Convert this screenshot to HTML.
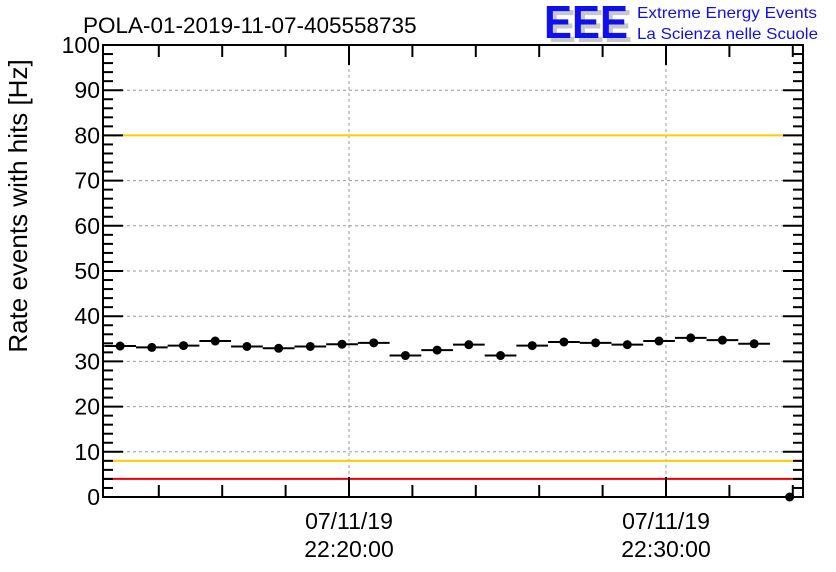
<!DOCTYPE html>
<html><head><meta charset="utf-8"><style>
body{margin:0;background:#fff;}
svg{display:block;font-family:"Liberation Sans",sans-serif;}
</style></head><body>
<svg id="chart" width="836" height="572" viewBox="0 0 836 572">
<rect width="836" height="572" fill="#fff"/>
<text x="83" y="33" font-size="22.5">POLA-01-2019-11-07-405558735</text>
<g>
<text x="548" y="42" font-size="46" font-weight="bold" fill="#c8c8c8" textLength="84" lengthAdjust="spacingAndGlyphs">EEE</text>
<text x="544" y="38" font-size="46" font-weight="bold" fill="#1010ee" textLength="84" lengthAdjust="spacingAndGlyphs">EEE</text>
<text x="637" y="18" font-size="16" fill="#1010ee" textLength="180" lengthAdjust="spacingAndGlyphs">Extreme Energy Events</text>
<text x="637" y="39" font-size="16" fill="#1010ee" textLength="181" lengthAdjust="spacingAndGlyphs">La Scienza nelle Scuole</text>
</g>
<g id="grid"></g>
<g id="lines"></g>
<g id="marks"></g>
<rect x="103" y="45" width="700" height="452" fill="none" stroke="#000" stroke-width="2"/>
<g id="axes"></g>
<text transform="translate(27,206) rotate(-90)" font-size="26" text-anchor="middle">Rate events with hits [Hz]</text>
</svg>
<script>
const values=[33.4,33.1,33.5,34.5,33.3,32.9,33.3,33.8,34.1,31.3,32.5,33.7,31.3,33.5,34.3,34.1,33.7,34.5,35.2,34.7,33.9];
const firstMinute=-7.22;
const lastPointMinute=13.9;
const lastPointValue=0;
const yTicks=[0,10,20,30,40,50,60,70,80,90,100];
const xMajorMinutes=[0,10];
const xMajorDates=["07/11/19","07/11/19"];
const xMajorTimes=["22:20:00","22:30:00"];
const thresholdsYellow=[80,8];
const thresholdsRed=[100,4];

const NS="http://www.w3.org/2000/svg";
const L=103,R=803,T=45,B=497;
const y=v=>B-(v/100)*(B-T);
const pxMin=31.7;
const x=m=>349+m*pxMin;
function mk(tag,attrs,parent){const e=document.createElementNS(NS,tag);for(const k in attrs)e.setAttribute(k,attrs[k]);document.getElementById(parent).appendChild(e);return e;}
yTicks.forEach(v=>{if(v>0&&v<100){const g=mk('line',{x1:L,x2:R,y1:y(v),y2:y(v),stroke:'#999','stroke-dasharray':'3,3','stroke-width':1},'grid');

}});
xMajorMinutes.forEach(m=>{const g=mk('line',{x1:x(m),x2:x(m),y1:T,y2:B,stroke:'#999','stroke-dasharray':'3,3','stroke-width':1},'grid');

});
thresholdsYellow.forEach(v=>{const l=mk('line',{x1:L,x2:R,y1:y(v),y2:y(v),stroke:'#ffcc00','stroke-width':2},'lines');

});
thresholdsRed.forEach(v=>{const l=mk('line',{x1:L,x2:R,y1:y(v),y2:y(v),stroke:'#ee0000','stroke-width':2},'lines');

});
values.forEach((v,i)=>{const m=firstMinute+i;
const bar=mk('line',{x1:x(m-0.5),x2:x(m+0.5),y1:y(v),y2:y(v),stroke:'#000','stroke-width':2},'marks');


const c=mk('circle',{cx:x(m),cy:y(v),r:4.5,fill:'#000'},'marks');

});
const lp=mk('circle',{cx:x(lastPointMinute),cy:y(lastPointValue),r:4.5,fill:'#000'},'marks');


for(let v=0;v<=100;v+=2){const major=v%10===0;const len=major?20:10;
const t1=mk('line',{x1:L,x2:L+len,y1:y(v),y2:y(v),stroke:'#000','stroke-width':2},'axes');


const t2=mk('line',{x1:R-len,x2:R,y1:y(v),y2:y(v),stroke:'#000','stroke-width':2},'axes');

}
yTicks.forEach(v=>{const t=mk('text',{x:L-3,y:y(v)+8,'font-size':23,'text-anchor':'end'},'axes');t.textContent=v;

});
for(let m=-8;m<=14;m+=2){const xx=x(m);if(xx<L||xx>R)continue;const major=m%10===0;const len=major?20:12;
const t=mk('line',{x1:xx,x2:xx,y1:B-len,y2:B,stroke:'#000','stroke-width':2},'axes');


const t2=mk('line',{x1:xx,x2:xx,y1:T,y2:T+len,stroke:'#000','stroke-width':2},'axes');

}
xMajorMinutes.forEach((m,i)=>{const a=mk('text',{x:x(m),y:529,'font-size':23,'text-anchor':'middle'},'axes');a.textContent=xMajorDates[i];


const b=mk('text',{x:x(m),y:557,'font-size':23,'text-anchor':'middle'},'axes');b.textContent=xMajorTimes[i];

});
</script>
</body></html>
